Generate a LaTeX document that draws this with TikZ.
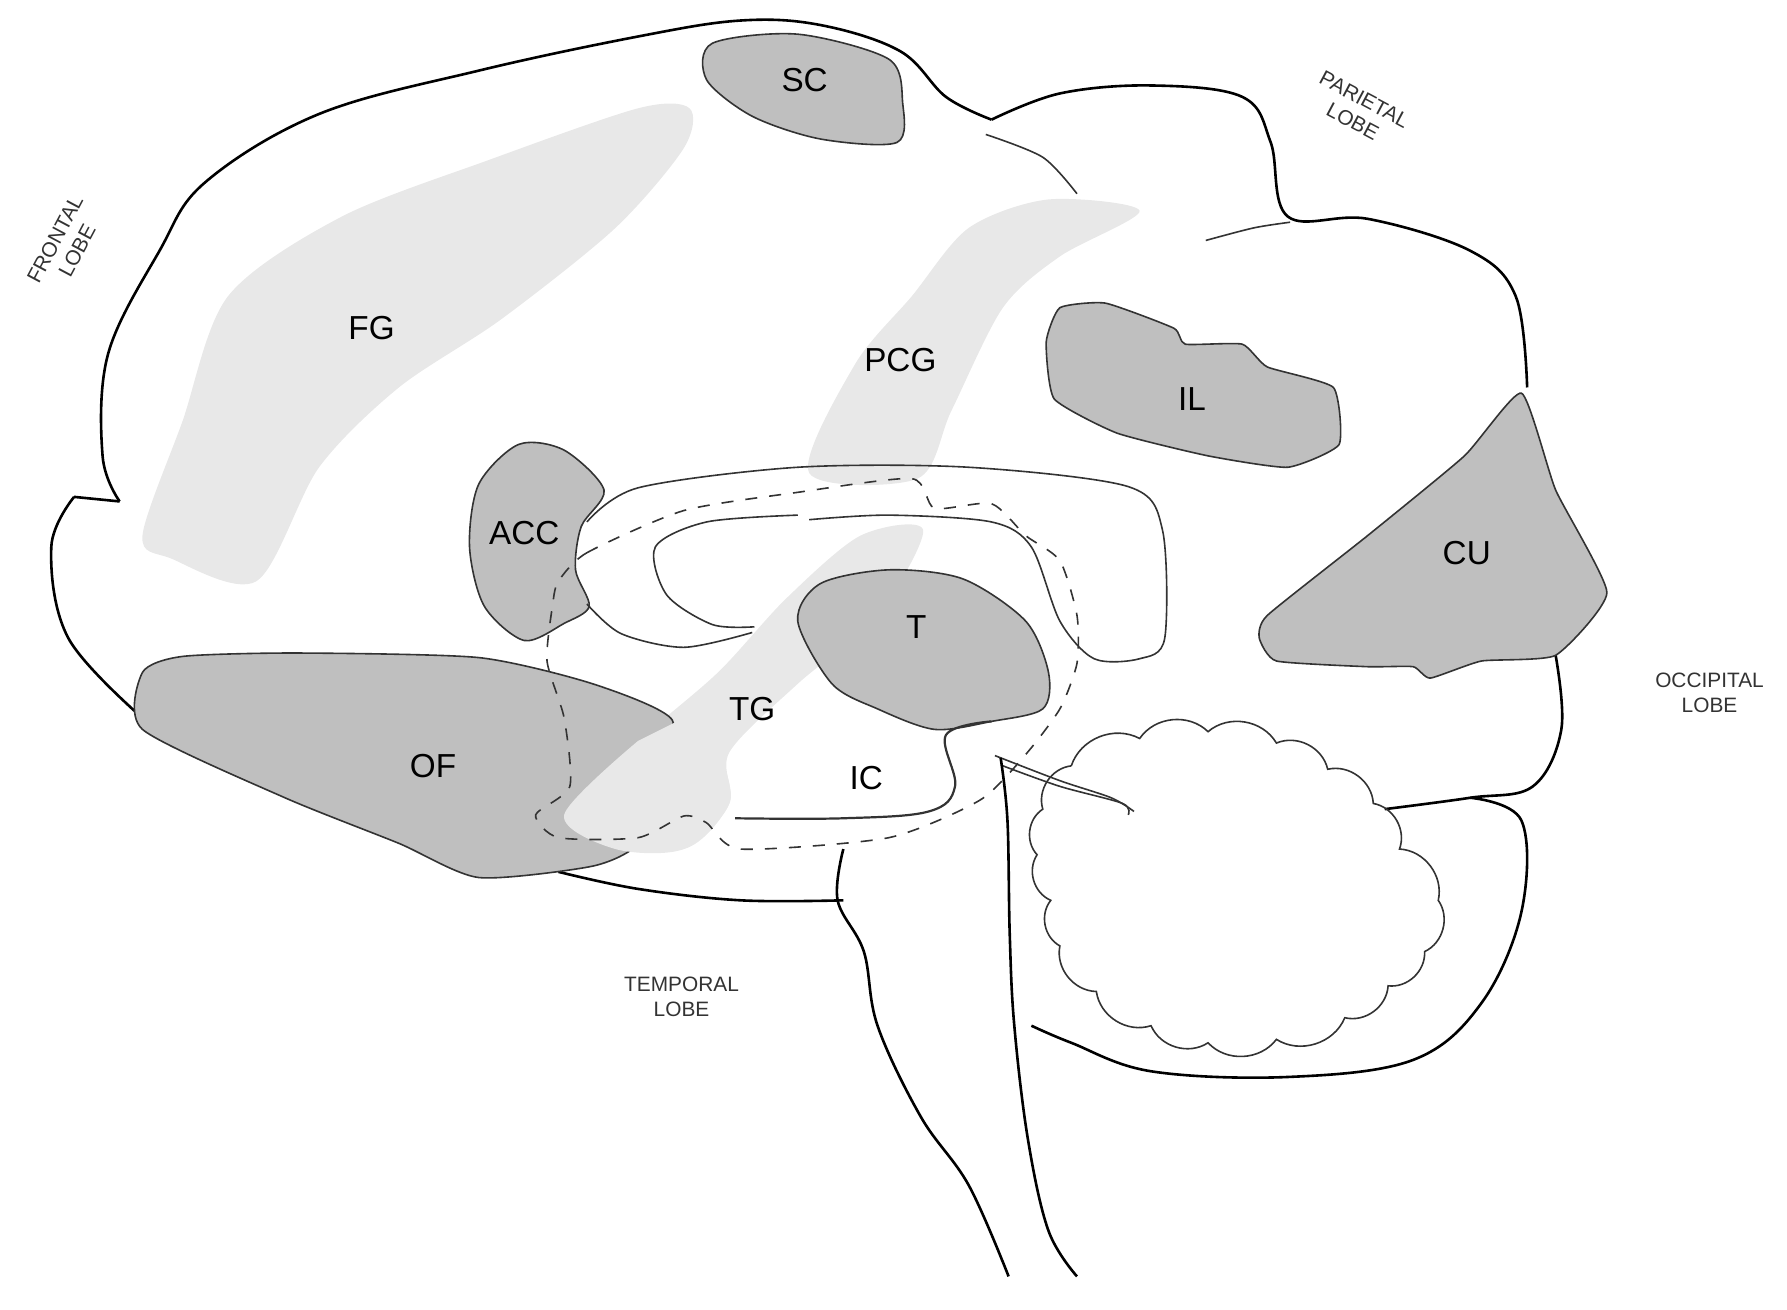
\documentclass[tikz,border=0pt]{standalone}
\usepackage{fontspec}
\setmainfont{Liberation Sans}
\begin{document}
\begin{tikzpicture}[x=0.01cm,y=-0.01cm,
  dark/.style={fill=black!25,draw=black!80,line width=0.4pt},
  speck/.style={fill=black!9,draw=none},
  outl/.style={draw=black,line width=0.65pt},
  thin/.style={draw=black!80,line width=0.4pt},
  lab/.style={font=\fontsize{8.3}{9}\selectfont},
  lobe/.style={font=\fontsize{5.2}{6.2}\selectfont,align=center,text=black!80}]
\useasboundingbox (0,0) rectangle (1568,1149);
% speckled bands
\fill[speck] plot[smooth cycle,tension=0.5] coordinates{(125,470)(160,370)(200,260)(300,190)(430,140)(560,95)(605,95)(600,130)(540,200)(440,280)(350,340)(280,410)(225,510)(150,490)};
\fill[speck] plot[smooth cycle,tension=0.5] coordinates{(710,415)(750,320)(800,260)(850,200)(920,175)(1000,185)(930,225)(880,270)(835,360)(805,420)};
\fill[speck] plot[smooth cycle,tension=0.5] coordinates{(755,470)(810,465)(770,540)(700,600)(640,660)(640,705)(600,745)(515,738)(495,712)(560,650)(630,590)(690,525)};
% outer outline
\draw[outl] plot[smooth,tension=0.6] coordinates{(105,440)(90,400)(95,310)(140,220)(180,160)(280,100)(420,62)(560,32)(650,18)(720,22)(790,45)(830,85)(870,105)};
\draw[outl] (105,440) -- (65,436);
\draw[outl] plot[smooth,tension=0.6] coordinates{(65,436)(45,480)(60,560)(125,630)};
\draw[outl] plot[smooth,tension=0.6] coordinates{(870,105)(930,82)(1010,75)(1090,85)(1115,125)(1130,190)(1200,192)(1290,220)(1330,260)(1340,340)};
\draw[outl] plot[smooth,tension=0.6] coordinates{(1365,575)(1370,640)(1345,690)(1290,700)(1215,710)};
\draw[outl] plot[smooth,tension=0.6] coordinates{(1290,700)(1335,720)(1335,800)(1300,880)(1240,930)(1130,945)(1010,940)(940,915)(905,900)};
\draw[outl] plot[smooth,tension=0.6] coordinates{(490,765)(560,780)(650,790)(740,790)};
% sulci
\draw[thin] plot[smooth] coordinates{(865,118)(915,138)(945,170)};
\draw[thin] plot[smooth] coordinates{(1058,211)(1100,200)(1132,195)};
% dark regions
\draw[dark] plot[smooth cycle,tension=0.5] coordinates{(625,38)(700,30)(780,52)(792,90)(787,125)(720,122)(660,102)(620,70)};
\draw[dark] plot[smooth cycle,tension=0.3] coordinates{(930,270)(970,266)(1030,288)(1040,302)(1090,302)(1112,322)(1170,340)(1175,390)(1130,410)(1060,400)(980,380)(925,350)(918,300)};
\draw[dark] plot[smooth cycle,tension=0.3] coordinates{(1335,345)(1365,430)(1410,520)(1365,575)(1300,580)(1255,595)(1240,585)(1200,585)(1120,580)(1105,560)(1112,540)(1200,470)(1285,400)};
\draw[dark] plot[smooth cycle,tension=0.5] coordinates{(455,390)(495,395)(530,430)(510,462)(505,500)(517,532)(495,547)(460,562)(425,532)(412,480)(420,425)};
\draw[dark] plot[smooth cycle,tension=0.4] coordinates{(125,590)(160,576)(260,573)(420,577)(520,600)(590,632)(570,690)(560,740)(520,760)(420,770)(350,740)(250,700)(125,640)};
\fill[speck] plot[smooth,tension=0.5] coordinates{(600,630)(630,660)(640,705)(600,745)(540,745)(495,715)(560,650)} -- cycle;
\draw[dark] plot[smooth cycle,tension=0.5] coordinates{(700,545)(720,512)(780,500)(845,508)(900,545)(920,590)(915,622)(870,633)(820,640)(770,622)(730,600)};
% corpus callosum / fornix
\draw[thin] plot[smooth,tension=0.5] coordinates{(515,458)(560,428)(700,410)(850,410)(990,427)(1020,465)(1022,560)(1000,578)(960,578)(930,545)(905,480)(870,458)(780,452)(710,456)};
\draw[thin] plot[smooth,tension=0.5] coordinates{(700,452)(620,458)(575,480)(585,522)(625,548)(662,550)};
\draw[thin] plot[smooth,tension=0.5] coordinates{(515,530)(545,556)(600,568)(660,555)};
% dashed outline
\draw[thin,dashed] plot[smooth cycle,tension=0.4] coordinates{(490,510)(515,485)(600,448)(700,432)(800,420)(820,446)(870,442)(900,470)(930,492)(945,540)(945,582)(930,622)(900,662)(860,702)(780,735)(650,745)(620,722)(600,716)(560,735)(490,735)(470,715)(500,690)(495,630)(480,580)(485,530)};
% IC hook
\draw[thin,line width=0.55pt] plot[smooth,tension=0.6] coordinates{(870,633)(830,645)(838,690)(815,712)(740,718)(645,718)};
% peduncle lines
\draw[thin] plot[smooth] coordinates{(873,663)(930,685)(975,700)(995,712)};
\draw[thin] plot[smooth] coordinates{(880,672)(930,690)(985,705)(990,715)};
% brainstem
\draw[outl] plot[smooth,tension=0.6] coordinates{(740,745)(735,790)(758,835)(770,900)(808,980)(850,1040)(885,1120)};
\draw[outl] plot[smooth,tension=0.6] coordinates{(878,665)(884,720)(886,820)(890,900)(902,1000)(920,1080)(945,1120)};
% cerebellum
\draw[thin] (940,672) to[bend left=50] (1000,648) to[bend left=50] (1060,642) to[bend left=50] (1120,652) to[bend left=50] (1165,675) to[bend left=50] (1205,705) to[bend left=50] (1228,745) to[bend left=50] (1262,790) to[bend left=50] (1250,835) to[bend left=50] (1218,865) to[bend left=50] (1180,893) to[bend left=50] (1120,912) to[bend left=50] (1060,915) to[bend left=50] (1010,900) to[bend left=50] (962,870) to[bend left=50] (930,830) to[bend left=50] (922,790) to[bend left=50] (910,750) to[bend left=50] (915,710) to[bend left=50] (940,672);
% labels
\node[lab] (sc) at (706,70) {SC};
\node[lab] (fg) at (326,288) {FG};
\node[lab] (pcg) at (790,316) {PCG};
\node[lab] (il) at (1046,350) {IL};
\node[lab] (acc) at (460,468) {ACC};
\node[lab] (cu) at (1287,485) {CU};
\node[lab] (t) at (804,550) {T};
\node[lab] (tg) at (660,622) {TG};
\node[lab] (of) at (380,672) {OF};
\node[lab] (ic) at (760,683) {IC};
\node[lobe,rotate=62] (fl) at (58,215) {FRONTAL\\LOBE};
\node[lobe,rotate=-28] (pl) at (1192,97) {PARIETAL\\LOBE};
\node[lobe] (ol) at (1500,608) {OCCIPITAL\\LOBE};
\node[lobe] (tl) at (598,875) {TEMPORAL\\LOBE};
\end{tikzpicture}
\end{document}
